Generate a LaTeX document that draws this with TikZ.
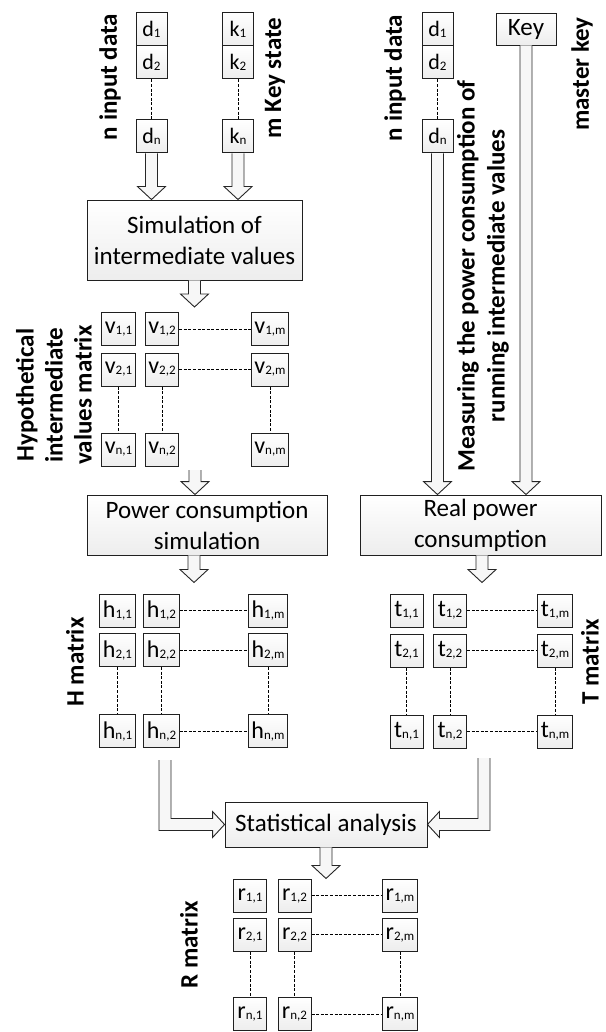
\documentclass[tikz,border=0pt]{standalone}
\usepackage{fontspec}
\setmainfont{Carlito}
\usetikzlibrary{calc}
\newcommand{\mc}[2]{#1\raisebox{-1pt}{\fontsize{13}{13}\selectfont#2}}
\tikzset{
  box/.style={draw=gray!25!black, line width=0.9pt, top color=white, bottom color=gray!14, align=center, inner sep=2pt, font=\fontsize{25}{31}\selectfont},
  cell/.style={draw=gray!25!black, line width=1pt, top color=white, bottom color=gray!14, minimum width=33pt, minimum height=33pt, inner sep=3pt, font=\fontsize{24}{24}\selectfont},
  lbl/.style={rotate=90, align=center, inner sep=1pt, font=\bfseries\fontsize{25}{29}\selectfont},
  dots/.style={dash pattern=on 3pt off 1.6pt, line width=1pt},
  fat/.style={fill=gray!6, draw=gray!30!black, line width=0.9pt},
  fat down/.style={fat, to path={let \p1=(\tikztostart), \p2=(\tikztotarget) in
    (\x1-6pt,\y1) -- (\x1-6pt,\y2+13pt) -- (\x1-14pt,\y2+13pt) -- (\x1,\y2) -- (\x1+14pt,\y2+13pt) -- (\x1+6pt,\y2+13pt) -- (\x1+6pt,\y1)}},
  fat turn right/.style={fat, to path={let \p1=(\tikztostart), \p2=(\tikztotarget) in
    (\x1-6pt,\y1) -- (\x1-6pt,\y2-6pt) -- (\x2-12pt,\y2-6pt) -- (\x2-12pt,\y2-13pt) -- (\x2,\y2) -- (\x2-12pt,\y2+13pt) -- (\x2-12pt,\y2+6pt) -- (\x1+6pt,\y2+6pt) -- (\x1+6pt,\y1)}},
  fat turn left/.style={fat, to path={let \p1=(\tikztostart), \p2=(\tikztotarget) in
    (\x1+6pt,\y1) -- (\x1+6pt,\y2-6pt) -- (\x2+12pt,\y2-6pt) -- (\x2+12pt,\y2-13pt) -- (\x2,\y2) -- (\x2+12pt,\y2+13pt) -- (\x2+12pt,\y2+6pt) -- (\x1-6pt,\y2+6pt) -- (\x1-6pt,\y1)}}
}
\begin{document}
\begin{tikzpicture}[x=1pt,y=-1pt]
    \useasboundingbox (0,0) rectangle (605,1032);

    % inputs
    \begin{scope}[every node/.style={cell, minimum width=31pt, font=\fontsize{22}{22}\selectfont}]
        \node (d1) at (151.5, 29.5) {\mc{d}{1}};
        \node (d2) at (151.5, 62.5) {\mc{d}{2}};
        \node (dn) at (151.5, 136.5) {\mc{d}{n}};
        \node (k1) at (238, 29.5) {\mc{k}{1}};
        \node (k2) at (238, 62.5) {\mc{k}{2}};
        \node (kn) at (238, 136.5) {\mc{k}{n}};
        \node (rd1) at (437.5, 29.5) {\mc{d}{1}};
        \node (rd2) at (437.5, 62.5) {\mc{d}{2}};
        \node (rdn) at (437.5, 136.5) {\mc{d}{n}};
    \end{scope}
    \node[box, minimum width=60pt, minimum height=32pt] (key) at (526, 29) {Key};

    \node[lbl] (lin) at (110, 77) {n input data};
    \node[lbl] (lks) at (275, 78) {m Key state};
    \node[lbl] (rin) at (395, 78) {n input data};
    \node[lbl] (lmk) at (582, 74) {master key};
    \node[lbl, font=\bfseries\fontsize{25}{30}\selectfont] (lms) at (483, 276) {Measuring the power consumption of\\running intermediate values};

    % processing boxes
    \node[box, minimum width=215pt, minimum height=80pt] (sim) at (194.5, 240) {Simulation of\\intermediate values};
    \node[box, minimum width=240pt, minimum height=60pt] (pow) at (207, 525) {Power consumption\\simulation};
    \node[box, minimum width=241pt, minimum height=60pt] (real) at (480.5, 525) {Real power\\consumption};
    \node[box, minimum width=202pt, minimum height=45pt] (stat) at (326, 824.5) {Statistical analysis};

    % matrices
    \begin{scope}[every node/.style={cell}]
        \node (v11) at (118.5, 329) {\mc{v}{1,1}};
        \node (v12) at (162, 329) {\mc{v}{1,2}};
        \node (v1m) at (270, 329) {\mc{v}{1,m}};
        \node (v21) at (118.5, 369.5) {\mc{v}{2,1}};
        \node (v22) at (162, 369.5) {\mc{v}{2,2}};
        \node (v2m) at (270, 369.5) {\mc{v}{2,m}};
        \node (vn1) at (118.5, 449.5) {\mc{v}{n,1}};
        \node (vn2) at (162, 449.5) {\mc{v}{n,2}};
        \node (vnm) at (270, 449.5) {\mc{v}{n,m}};

        \node (h11) at (117.5, 610.5) {\mc{h}{1,1}};
        \node (h12) at (161.5, 610.5) {\mc{h}{1,2}};
        \node (h1m) at (268, 610.5) {\mc{h}{1,m}};
        \node (h21) at (117.5, 650) {\mc{h}{2,1}};
        \node (h22) at (161.5, 650) {\mc{h}{2,2}};
        \node (h2m) at (268, 650) {\mc{h}{2,m}};
        \node (hn1) at (117.5, 731) {\mc{h}{n,1}};
        \node (hn2) at (161.5, 731) {\mc{h}{n,2}};
        \node (hnm) at (268, 731) {\mc{h}{n,m}};

        \node (t11) at (406.5, 610.5) {\mc{t}{1,1}};
        \node (t12) at (450, 610.5) {\mc{t}{1,2}};
        \node (t1m) at (555, 610.5) {\mc{t}{1,m}};
        \node (t21) at (406.5, 650.5) {\mc{t}{2,1}};
        \node (t22) at (450, 650.5) {\mc{t}{2,2}};
        \node (t2m) at (555, 650.5) {\mc{t}{2,m}};
        \node (tn1) at (406.5, 731.5) {\mc{t}{n,1}};
        \node (tn2) at (450, 731.5) {\mc{t}{n,2}};
        \node (tnm) at (555, 731.5) {\mc{t}{n,m}};

        \node (r11) at (250, 895.5) {\mc{r}{1,1}};
        \node (r12) at (294.5, 895.5) {\mc{r}{1,2}};
        \node (r1m) at (400, 895.5) {\mc{r}{1,m}};
        \node (r21) at (250, 934.5) {\mc{r}{2,1}};
        \node (r22) at (294.5, 934.5) {\mc{r}{2,2}};
        \node (r2m) at (400, 934.5) {\mc{r}{2,m}};
        \node (rn1) at (250, 1014) {\mc{r}{n,1}};
        \node (rn2) at (294.5, 1014) {\mc{r}{n,2}};
        \node (rnm) at (400, 1014) {\mc{r}{n,m}};
    \end{scope}

    \node[lbl] (lv) at (54, 395) {Hypothetical\\intermediate\\values matrix};
    \node[lbl] (lh) at (75, 662) {H matrix};
    \node[lbl] (lt) at (590, 662) {T matrix};
    \node[lbl] (lr) at (189, 945) {R matrix};

    % dotted links
    \draw[dots] (d2)--(dn);
    \draw[dots] (k2)--(kn);
    \draw[dots] (rd2)--(rdn);
    \draw[dots] (v12)--(v1m);
    \draw[dots] (v22)--(v2m);
    \draw[dots] (v21)--(vn1);
    \draw[dots] (v22)--(vn2);
    \draw[dots] (v2m)--(vnm);
    \draw[dots] (h12)--(h1m);
    \draw[dots] (h22)--(h2m);
    \draw[dots] (hn2)--(hnm);
    \draw[dots] (h21)--(hn1);
    \draw[dots] (h22)--(hn2);
    \draw[dots] (h2m)--(hnm);
    \draw[dots] (t12)--(t1m);
    \draw[dots] (t22)--(t2m);
    \draw[dots] (tn2)--(tnm);
    \draw[dots] (t21)--(tn1);
    \draw[dots] (t22)--(tn2);
    \draw[dots] (t2m)--(tnm);
    \draw[dots] (r12)--(r1m);
    \draw[dots] (r22)--(r2m);
    \draw[dots] (rn2)--(rnm);
    \draw[dots] (r21)--(rn1);
    \draw[dots] (r22)--(rn2);
    \draw[dots] (r2m)--(rnm);

    % fat arrows
    \coordinate (vout) at (195, 470);
    \coordinate (hout) at (165, 760);
    \coordinate (tout) at (484, 758);
    \path[fat down] (dn.south) to (sim.north);
    \path[fat down] (kn.south) to (sim.north);
    \path[fat down] (sim.south) to ([yshift=5pt]v12.north);
    \path[fat down] (vout) to (pow.north);
    \path[fat down] ([xshift=-13pt]pow.south) to ([yshift=11pt]h12.north);
    \path[fat down] (rdn.south) to (real.north);
    \path[fat down] (key.south) to (real.north);
    \path[fat down] ([xshift=1.5pt]real.south) to ([yshift=11pt]t12.north);
    \path[fat turn right] (hout) to (stat.west);
    \path[fat turn left] (tout) to (stat.east);
    \path[fat down] (stat.south) to (r12.north);
\end{tikzpicture}
\end{document}
